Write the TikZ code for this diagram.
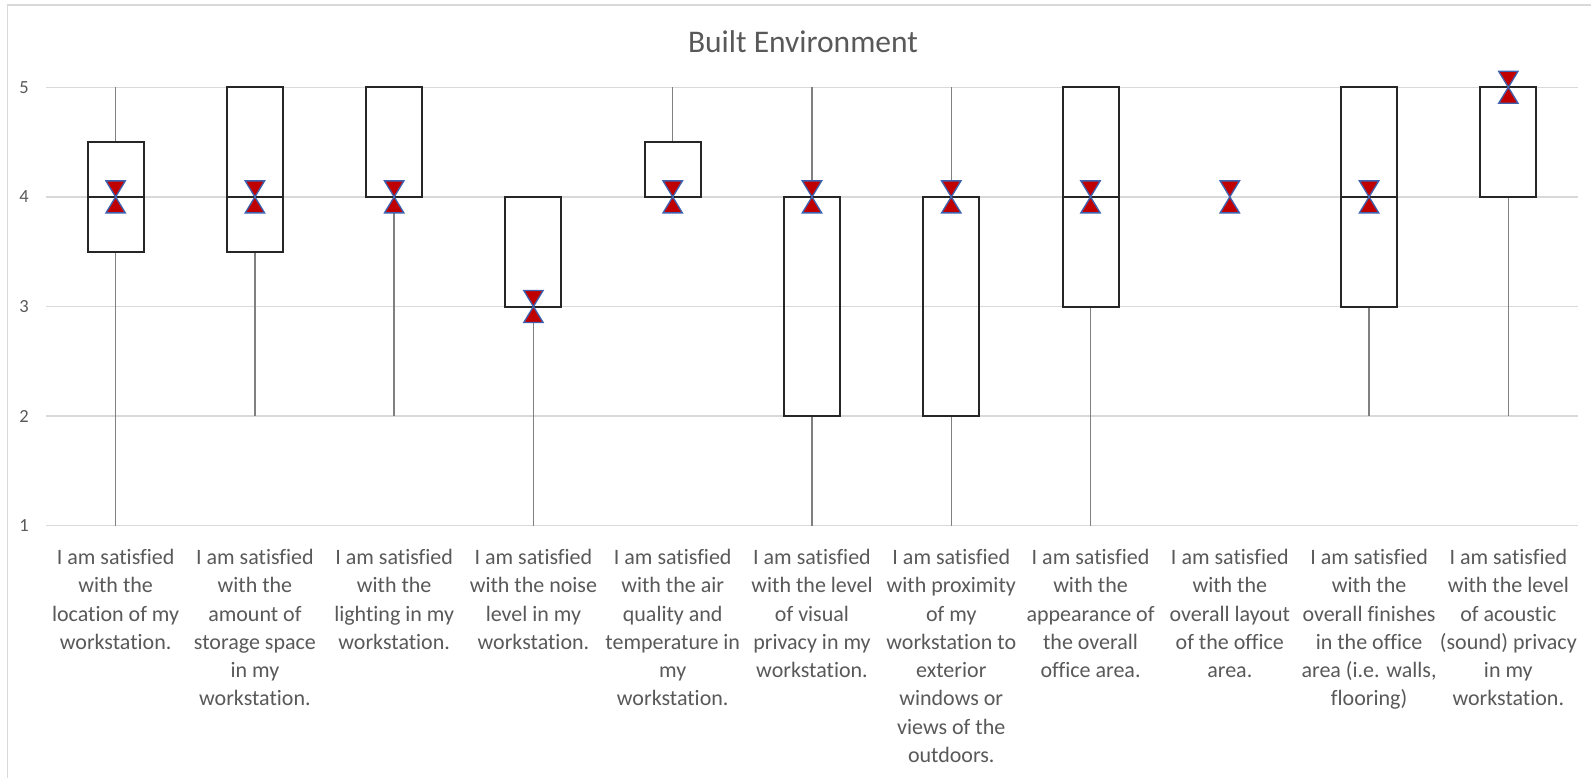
\documentclass[tikz,border=0pt]{standalone}
\usepackage{fontspec}
\setmainfont{Carlito}[Ligatures=NoCommon]
\begin{document}
\begin{tikzpicture}[x=1pt,y=-1pt,
  declare function={yv(\v)=87.3+(5-\v)*109.6;},
  grid/.style={draw=gridgray,line width=1.4pt},
  frame/.style={draw=gridgray,line width=1.2pt},
  whisk/.style={draw=whiskgray,line width=1.5pt},
  boxst/.style={draw=boxblack,line width=2pt},
  ticklab/.style={text=labgray,font=\fontsize{18.5}{22}\selectfont,inner sep=0pt},
  catlab/.style={text=labgray,font=\fontsize{22}{28.3}\selectfont,align=center,anchor=north,inner sep=0pt},
  marker/.style={fill=markred,draw=markblue,line width=1.3pt,line join=miter},
  hourglass/.pic={
    \path[marker] (-9.7,-16) -- (9.7,-16) -- (0,0) -- cycle;
    \path[marker] (-9.7,16) -- (9.7,16) -- (0,0) -- cycle;
  }]
\definecolor{gridgray}{HTML}{D9D9D9}
\definecolor{whiskgray}{HTML}{808080}
\definecolor{boxblack}{HTML}{262626}
\definecolor{labgray}{HTML}{595959}
\definecolor{markred}{HTML}{C00000}
\definecolor{markblue}{HTML}{3F62B0}
\useasboundingbox (0,0) rectangle (1591,778);
\fill[white] (0,0) rectangle (1591,778);

% chart area border (left and top edges visible)
\draw[frame] (7.3,790) -- (7.3,5) -- (1600,5);

% title
\node[text=labgray,font=\fontsize{31.5}{36}\selectfont] (title) at (803,42) {Built Environment};

% horizontal gridlines and value labels
\foreach \v in {1,...,5} {
  \draw[grid] (46,{yv(\v)}) -- (1578,{yv(\v)});
  \node[ticklab] (tick\v) at (24,{yv(\v)}) {\v};
}

% boxes: index / min / q1 / median / q3 / max / mean
\foreach \i/\lo/\qa/\md/\qb/\hi/\mn in {
  1/1/3.5/4/4.5/5/4,
  2/2/3.5/4/5/5/4,
  3/2/4/4/5/5/4,
  4/1/3/3/4/4/3,
  5/4/4/4/4.5/5/4,
  6/1/2/4/4/5/4,
  7/1/2/4/4/5/4,
  8/1/3/4/5/5/4,
  10/2/3/4/5/5/4,
  11/2/4/5/5/5/5} {
  \pgfmathsetmacro\cx{46+139.27*(\i-0.5)}
  \draw[whisk] (\cx,{yv(\lo)}) -- (\cx,{yv(\qa)});
  \draw[whisk] (\cx,{yv(\qb)}) -- (\cx,{yv(\hi)});
  \draw[boxst] (\cx-28,{yv(\qa)}) rectangle (\cx+28,{yv(\qb)});
  \draw[boxst] (\cx-28,{yv(\md)}) -- (\cx+28,{yv(\md)});
}

% mean markers
\foreach \i/\mn in {1/4,2/4,3/4,4/3,5/4,6/4,7/4,8/4,9/4,10/4,11/5} {
  \pgfmathsetmacro\cx{46+139.27*(\i-0.5)}
  \pic at (\cx,{yv(\mn)}) {hourglass};
}

% category labels
\foreach \i/\txt in {
  1/{I am satisfied\\with the\\location of my\\workstation.},
  2/{I am satisfied\\with the\\amount of\\storage space\\in my\\workstation.},
  3/{I am satisfied\\with the\\lighting in my\\workstation.},
  4/{I am satisfied\\with the noise\\level in my\\workstation.},
  5/{I am satisfied\\with the air\\quality and\\temperature in\\my\\workstation.},
  6/{I am satisfied\\with the level\\of visual\\privacy in my\\workstation.},
  7/{I am satisfied\\with proximity\\of my\\workstation to\\exterior\\windows or\\views of the\\outdoors.},
  8/{I am satisfied\\with the\\appearance of\\the overall\\office area.},
  9/{I am satisfied\\with the\\overall layout\\of the office\\area.},
  10/{I am satisfied\\with the\\overall finishes\\in the office\\area (i.e. walls,\\flooring)},
  11/{I am satisfied\\with the level\\of acoustic\\(sound) privacy\\in my\\workstation.}} {
  \pgfmathsetmacro\cx{46+139.27*(\i-0.5)}
  \node[catlab] (cat\i) at (\cx,549) {\txt};
}
\end{tikzpicture}
\end{document}
